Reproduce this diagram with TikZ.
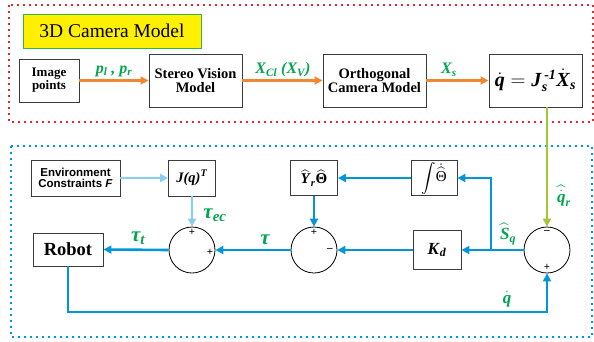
\documentclass[tikz,border=0pt]{standalone}
\usepackage{amsmath}
\usepackage{fontspec}
\setmainfont{Liberation Serif}
\newfontfamily\tms{Liberation Serif}
\newfontfamily\arialf{Liberation Sans}
\usetikzlibrary{arrows.meta}
\definecolor{orng}{RGB}{240,135,50}
\definecolor{blu}{RGB}{0,150,215}
\definecolor{lblu}{RGB}{135,206,240}
\definecolor{gtxt}{RGB}{0,165,80}
\definecolor{lime}{RGB}{160,200,50}
\definecolor{rdot}{RGB}{230,40,50}
\definecolor{ylw}{RGB}{255,240,0}
\definecolor{gbord}{RGB}{50,180,80}
\definecolor{bxd}{RGB}{60,60,60}
\newcommand\bi[1]{\textbf{\textit{#1}}}
\newcommand\fs[1]{\fontsize{#1}{#1}\selectfont}
\begin{document}
\begin{tikzpicture}[x=1pt,y=-1pt,
  blk/.style={draw=bxd,line width=0.9pt,fill=white,rectangle,inner sep=0pt,align=center,font=\tms\fs{14.5}\bfseries},
  sumc/.style={draw=black,line width=0.8pt,circle,minimum size=46pt,inner sep=0pt},
  tip/.style={-{Triangle[length=8pt,width=8pt]}},
  oar/.style={tip,draw=orng,line width=2.6pt},
  bar/.style={tip,draw=blu,line width=2.6pt},
  lbar/.style={tip,draw=lblu,line width=2.6pt},
  gar/.style={tip,draw=lime,line width=2.6pt},
  lbl/.style={text=gtxt,inner sep=0pt,font=\tms\fs{16}\bfseries\itshape},
  sgn/.style={inner sep=0pt,font=\fs{11}\bfseries},
  dotbox/.style={line width=1.6pt,dash pattern=on 1.6pt off 4.4pt}]
\useasboundingbox (0,0) rectangle (594,341);
% dotted frames
\draw[dotbox,draw=rdot] (9,5) rectangle (593,122);
\draw[dotbox,draw=blu] (11,146) rectangle (592,337);
% title
\node[draw=gbord,line width=1pt,fill=ylw,minimum width=178pt,minimum height=34pt,inner sep=0pt,font=\tms\fs{19.5}] (title) at (112,31) {3D Camera Model};
% top row
\node[blk,minimum width=60pt,minimum height=43pt,font=\tms\fs{13}\bfseries] (img) at (49,80.5) {Image\\points};
\node[blk,minimum width=93pt,minimum height=53pt] (stereo) at (195.5,80.5) {Stereo Vision\\Model};
\node[blk,minimum width=103pt,minimum height=53pt] (ortho) at (374.5,80.5) {Orthogonal\\Camera Model};
\node[blk,minimum width=93pt,minimum height=53pt,font=\tms\fs{20}] (eq) at (535.5,80.5)
  {$\dot{\text{\bi{q}}}=\text{\bi{J}}_{\text{\bi{s}}}^{\,\text{\bi{-1}}}\dot{\text{\bi{X}}}_{\text{\bi{s}}}$};
\draw[oar] (img.east) -- (stereo.west);
\draw[oar] (stereo.east) -- (ortho.west);
\draw[oar] (ortho.east) -- (eq.west);
\node[lbl] (lp) at (114,71) {\bi{p}\textsubscript{\bi{l}} , \bi{p}\textsubscript{\bi{r}}};
\node[lbl] (lx) at (283,70) {\bi{X}\textsubscript{\bi{Cl}} (\bi{X}\textsubscript{\bi{V}})};
\node[lbl] (ls) at (449,70) {\bi{X}\textsubscript{\bi{s}}};
% bottom blocks
\node[blk,minimum width=89pt,minimum height=36pt,font=\fs{11.5}\arialf\bfseries] (env) at (75.5,178) {Environment\\Constraints \textit{F}};
\node[blk,minimum width=47pt,minimum height=36pt,font=\tms\fs{14.5}] (jq) at (192,178) {$\text{\bi{J(q)}}^{\text{\bi{T}}}$};
\node[blk,minimum width=47pt,minimum height=35pt,font=\tms\fs{15}] (yr) at (314,178) {$\widehat{\text{\bi{Y}}}_{\text{\bi{r}}}\widehat{\text{\textbf{Θ}}}$};
\node[blk,minimum width=46pt,minimum height=35pt,font=\tms\fs{15}] (integ) at (434,178) {$\displaystyle\int\!\dot{\widehat{\text{Θ}}}$};
\node[blk,minimum width=70pt,minimum height=33pt,font=\tms\fs{18.5}\bfseries] (robot) at (68,249.5) {Robot};
\node[blk,minimum width=48pt,minimum height=39pt,font=\tms\fs{17}] (kd) at (437,250) {$\text{\bi{K}}_{\text{\bi{d}}}$};
\node[sumc] (c1) at (192,250) {};
\node[sumc] (c2) at (314,250) {};
\node[sumc] (c3) at (547,250) {};
\node[sgn] (s1a) at (192,232) {+};
\node[sgn] (s1b) at (210,252) {+};
\node[sgn] (s2a) at (314,232) {+};
\node[sgn] (s2b) at (330,250) {\textbf{--}};
\node[sgn] (s3a) at (547,232) {\textbf{--}};
\node[sgn] (s3b) at (547,267) {+};
% connectors
\draw[lbar] (env.east) -- (jq.west);
\draw[lbar] (jq.south) -- (c1.north);
\draw[bar] (c1.west) -- (robot.east);
\draw[bar] (c2.west) -- (c1.east);
\draw[bar] (kd.west) -- (c2.east);
\draw[bar] (c3.west) -- (kd.east);
\coordinate (br) at (491,250);
\draw[bar] (br) |- (integ.east);
\draw[bar] (integ.west) -- (yr.east);
\draw[bar] (yr.south) -- (c2.north);
\draw[gar] (eq.south -| c3) -- (c3.north);
\coordinate (fb) at (547,312);
\draw[bar] (robot.south) |- (fb) -- (c3.south);
% labels
\node[lbl,font=\tms\fs{21}\bfseries\itshape] (tec) at (215,215) {τ\textsubscript{\fs{15}\bi{ec}}};
\node[lbl,font=\tms\fs{21}\bfseries\itshape] (tt) at (138,238) {τ\textsubscript{\fs{15}\bi{t}}};
\node[lbl,font=\tms\fs{21}\bfseries\itshape] (tau) at (265,240) {τ};
\node[lbl,font=\tms\fs{17}] (sq) at (508,234) {$\widehat{\text{\bi{S}}}_{\text{\bi{q}}}$};
\node[lbl,font=\tms\fs{17}] (qr) at (564,196) {$\widehat{\dot{\text{\bi{q}}}}_{\text{\bi{r}}}$};
\node[lbl,font=\tms\fs{17}] (qd) at (507,299) {$\dot{\text{\bi{q}}}$};
\end{tikzpicture}
\end{document}
